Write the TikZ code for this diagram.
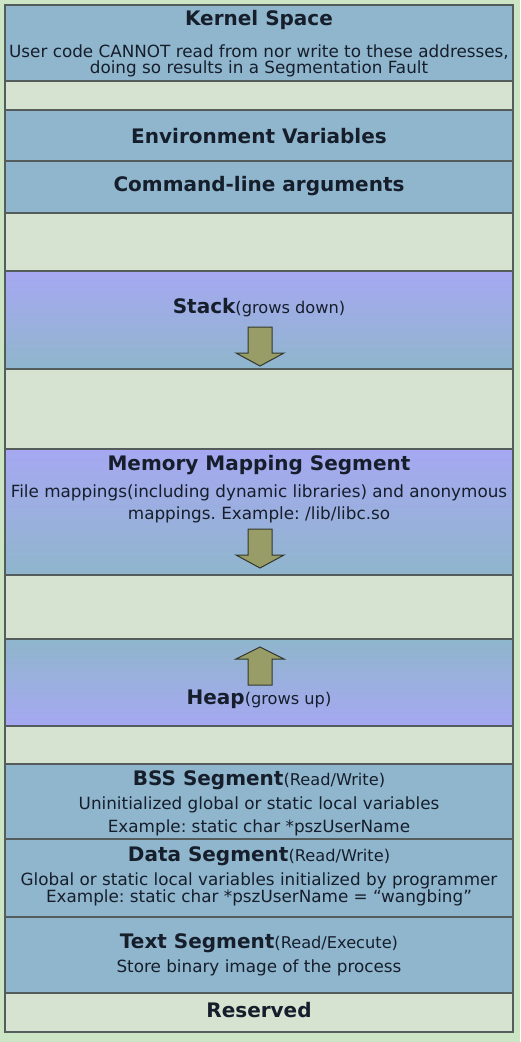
\documentclass[tikz,border=0pt]{standalone}
\usepackage{fontspec}
\setmainfont{DejaVu Sans}
\frenchspacing
\definecolor{margincol}{RGB}{204,229,196}
\definecolor{emptycol}{RGB}{215,227,209}
\definecolor{bluecol}{RGB}{143,182,204}
\definecolor{purplecol}{RGB}{166,168,242}
\definecolor{linecol}{RGB}{85,92,92}
\definecolor{txtcol}{RGB}{22,30,44}
\definecolor{arrowfill}{RGB}{152,156,102}
\definecolor{arrowline}{RGB}{50,56,44}
\newcommand\segtitle{\fontsize{20}{22}\selectfont\bfseries}
\newcommand\segbody{\fontsize{16.8}{18}\selectfont\mdseries}
\newcommand\segnote{\fontsize{16.2}{18}\selectfont\mdseries}
\tikzset{
  emptyrow/.style={fill=emptycol},
  bluerow/.style={fill=bluecol},
  downgrad/.style={top color=purplecol, bottom color=bluecol},
  upgrad/.style={top color=bluecol, bottom color=purplecol},
  sep/.style={draw=linecol, line width=2.2pt},
  label/.style={text=txtcol, inner sep=0pt, anchor=center},
  growarrow/.style={fill=arrowfill, draw=arrowline, line width=1pt, line join=miter},
}
\begin{document}
\begin{tikzpicture}[x=1pt,y=-1pt]
\fill[margincol] (0,0) rectangle (520,1042);
\useasboundingbox (0,0) rectangle (520,1042);
% rows
\path[bluerow]  (5,5)   rectangle (513,81);
\path[emptyrow] (5,81)  rectangle (513,110);
\path[bluerow]  (5,110) rectangle (513,161);
\path[bluerow]  (5,161) rectangle (513,213);
\path[emptyrow] (5,213) rectangle (513,271);
\path[downgrad] (5,271) rectangle (513,369);
\path[emptyrow] (5,369) rectangle (513,449);
\path[downgrad] (5,449) rectangle (513,575);
\path[emptyrow] (5,575) rectangle (513,639);
\path[upgrad]   (5,639) rectangle (513,726);
\path[emptyrow] (5,726) rectangle (513,764);
\path[bluerow]  (5,764) rectangle (513,839);
\path[bluerow]  (5,839) rectangle (513,917);
\path[bluerow]  (5,917) rectangle (513,993);
\path[emptyrow] (5,993) rectangle (513,1032);
% separators
\foreach \yy in {81,110,161,213,271,369,449,575,639,726,764,839,917,993}
  \draw[sep] (5,\yy) -- (513,\yy);
\draw[sep] (5,5) rectangle (513,1032);
% arrows
\draw[growarrow] (248,327) -- (272,327) -- (272,353) -- (284,353) -- (260,366) -- (236,353) -- (248,353) -- cycle;
\draw[growarrow] (248,529) -- (272,529) -- (272,555) -- (284,555) -- (260,568) -- (236,555) -- (248,555) -- cycle;
\draw[growarrow] (248,685) -- (272,685) -- (272,659) -- (284,659) -- (260,647) -- (236,659) -- (248,659) -- cycle;
% texts
\node[label] (kt) at (259,20) {\segtitle Kernel Space};
\node[label] (k1) at (259,52) {\segbody User code CANNOT read from nor write to these addresses,};
\node[label] (k2) at (259,69) {\segbody doing so results in a Segmentation Fault};
\node[label] (env) at (259,136) {\segtitle Environment Variables};
\node[label] (cmd) at (259,186) {\segtitle Command-line arguments};
\node[label] (stk) at (259,308) {\segtitle Stack\segnote(grows down)};
\node[label] (mt) at (259,465) {\segtitle Memory Mapping Segment};
\node[label] (m1) at (259,493) {\segbody File mappings(including dynamic libraries) and anonymous};
\node[label] (m2) at (259,515) {\segbody mappings. Example: /lib/libc.so};
\node[label] (hp) at (259,699) {\segtitle Heap\segnote(grows up)};
\node[label] (bt) at (259,780) {\segtitle BSS Segment\segnote(Read/Write)};
\node[label] (b1) at (259,805) {\segbody Uninitialized global or static local variables};
\node[label] (b2) at (259,828) {\segbody Example: static char *pszUserName};
\node[label] (dt) at (259,856) {\segtitle Data Segment\segnote(Read/Write)};
\node[label] (d1) at (259,881) {\segbody Global or static local variables initialized by programmer};
\node[label] (d2) at (259,898) {\segbody Example: static char *pszUserName = “wangbing”};
\node[label] (tt) at (259,943) {\segtitle Text Segment\segnote(Read/Execute)};
\node[label] (t1) at (259,968) {\segbody Store binary image of the process};
\node[label] (rs) at (259,1010) {\segtitle Reserved};
\end{tikzpicture}
\end{document}
